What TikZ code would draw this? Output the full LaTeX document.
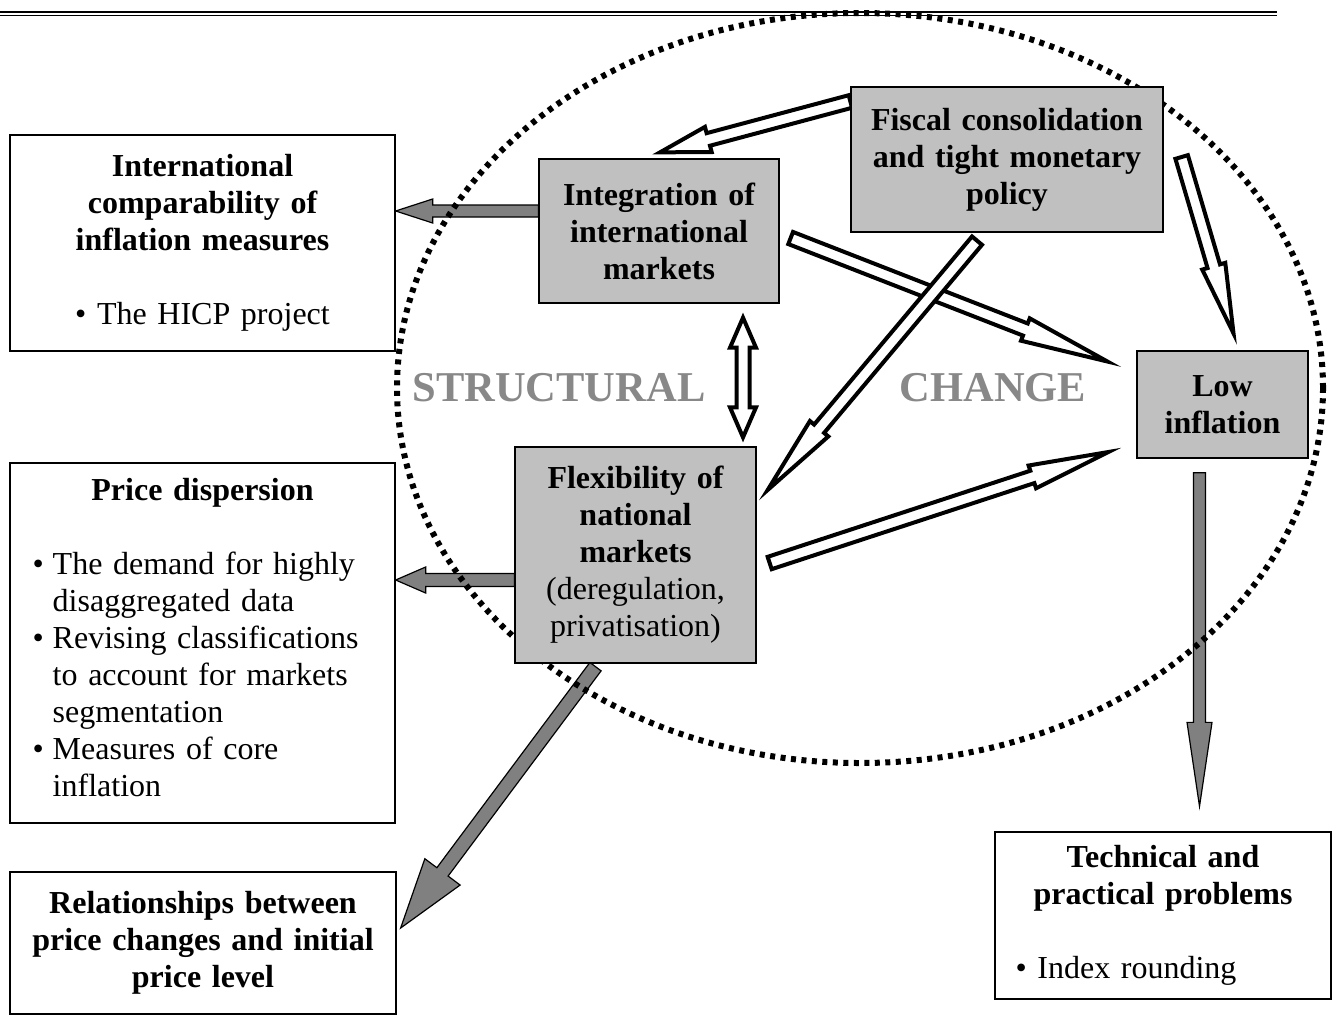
\documentclass[tikz,border=0pt]{standalone}
\usepackage{fontspec}
\setmainfont{Liberation Serif}
\usetikzlibrary{calc}
\definecolor{boxgray}{RGB}{192,192,192}
\definecolor{arrowgray}{RGB}{128,128,128}
\definecolor{wordgray}{RGB}{136,136,136}
\pgfdeclarelayer{bg}
\pgfdeclarelayer{ring}
\pgfsetlayers{bg,ring,main}
\newcommand{\blockarrow}[6][]{%
  \coordinate (ba-s) at (#2);
  \coordinate (ba-e) at (#3);
  \coordinate (ba-h) at ($(ba-e)!#5pt!(ba-s)$);
  \draw[#1] ($(ba-s)!#4pt!90:(ba-e)$) -- ($(ba-h)!#4pt!90:(ba-e)$) -- ($(ba-h)!#6pt!90:(ba-e)$) -- (ba-e)
    -- ($(ba-h)!#6pt!-90:(ba-e)$) -- ($(ba-h)!#4pt!-90:(ba-e)$) -- ($(ba-s)!#4pt!-90:(ba-e)$) -- cycle;}
\newcommand{\dblockarrow}[6][]{%
  \coordinate (ba-s) at (#2);
  \coordinate (ba-e) at (#3);
  \coordinate (ba-h) at ($(ba-e)!#5pt!(ba-s)$);
  \coordinate (ba-t) at ($(ba-s)!#5pt!(ba-e)$);
  \draw[#1] (ba-s) -- ($(ba-t)!#6pt!90:(ba-e)$) -- ($(ba-t)!#4pt!90:(ba-e)$) -- ($(ba-h)!#4pt!90:(ba-e)$) -- ($(ba-h)!#6pt!90:(ba-e)$) -- (ba-e)
    -- ($(ba-h)!#6pt!-90:(ba-e)$) -- ($(ba-h)!#4pt!-90:(ba-e)$) -- ($(ba-t)!#4pt!-90:(ba-e)$) -- ($(ba-t)!#6pt!-90:(ba-e)$) -- cycle;}
\tikzset{
  txt/.style={font=\fontsize{32}{37}\selectfont, align=center, inner xsep=0pt, inner ysep=0pt},
  graybox/.style={txt, draw, line width=1.3pt, fill=boxgray},
  whitebox/.style={txt, draw, line width=1.3pt, fill=white},
  graybar/.style={fill=arrowgray, draw=black, line width=1.2pt},
  hollowbar/.style={fill=white, draw=black, line width=4pt},
  bigword/.style={font=\fontsize{42.5}{50}\selectfont\bfseries, text=wordgray}
}
\begin{document}
\begin{tikzpicture}[x=1pt,y=-1pt]
\useasboundingbox (0,0) rectangle (1337,1015);
\draw[line width=2.6pt] (0,12) -- (1277,12);
\draw[line width=1.5pt] (0,15.4) -- (1277,15.4);

\node[whitebox, text width=385pt, minimum height=216pt] (intl) at (202.5,243)
  {\bfseries International\\ comparability of\\ inflation measures\\[37pt] \mdseries\textbullet\ The HICP project};
\node[whitebox, text width=385pt, minimum height=360pt] (price) at (202.5,643)
  {\textbf{Price dispersion}\\[37pt]
  \hspace*{-14pt}\begin{tabular}[t]{@{}l@{\hspace{9pt}}l@{}}
  \textbullet & The demand for highly\\
   & disaggregated data\\
  \textbullet & Revising classifications\\
   & to account for markets\\
   & segmentation\\
  \textbullet & Measures of core\\
   & inflation
  \end{tabular}};
\node[whitebox, text width=386pt, minimum height=142pt] (rel) at (203,943)
  {\bfseries Relationships between\\ price changes and initial\\ price level};
\node[whitebox, text width=336pt, minimum height=167pt] (tech) at (1163,915.5)
  {\bfseries Technical and\\ practical problems\\[37pt] \mdseries\hspace*{-74pt}\textbullet\ Index rounding};
\node[graybox, text width=240pt, minimum height=144pt] (integ) at (659,231)
  {\bfseries Integration of\\ international\\ markets};
\node[graybox, text width=312pt, minimum height=145pt] (fiscal) at (1007,159.5)
  {\bfseries Fiscal consolidation\\ and tight monetary\\ policy};
\node[graybox, text width=241pt, minimum height=216pt] (flex) at (635.5,555)
  {\bfseries Flexibility of\\ national\\ markets\\ \mdseries (deregulation,\\ privatisation)};
\node[graybox, text width=171pt, minimum height=107pt] (low) at (1222.5,404.5)
  {\bfseries Low\\ inflation};
\node[bigword] (struct) at (559,388) {STRUCTURAL};
\node[bigword] (change) at (993,388) {CHANGE};

\begin{pgfonlayer}{ring}
\draw[line width=6pt, dash pattern=on 5pt off 5.5pt] (860,388) ellipse [x radius=463pt, y radius=375pt];
\end{pgfonlayer}

\begin{pgfonlayer}{bg}
\blockarrow[graybar]{$(integ.west)+(0,-20)$}{$(intl.east)+(0,-32)$}{6}{37}{12}
\blockarrow[graybar]{$(flex.west)+(0,25)$}{$(price.east)+(0,-63)$}{6.5}{30}{13}
\blockarrow[graybar]{$(flex.south)+(-40,3)$}{$(rel.east)+(4,-15)$}{7}{70}{22}
\blockarrow[graybar]{$(low.south)+(-23,14)$}{$(tech.north)+(36.5,-25)$}{6}{84}{12.5}
\blockarrow[hollowbar]{$(fiscal.west)+(0,-58)$}{$(integ.north)+(1,-6)$}{6.5}{50}{13}
\blockarrow[hollowbar]{$(integ.east)+(11,7)$}{$(low.west)+(-29,-43)$}{6.5}{88}{12}
\blockarrow[hollowbar]{$(fiscal.south)+(-30,8)$}{$(flex.east)+(11,-65)$}{6.5}{80}{12}
\blockarrow[hollowbar]{$(flex.east)+(13,8)$}{$(low.west)+(-28,47.5)$}{6.5}{80}{12}
\blockarrow[hollowbar]{$(fiscal.east)+(18,-2.5)$}{$(low.north)+(11,-17)$}{6.5}{70}{12}
\dblockarrow[hollowbar]{$(integ.south)+(84,14)$}{$(flex.north)+(107.5,-9)$}{6.5}{30}{13}
\end{pgfonlayer}
\end{tikzpicture}
\end{document}
